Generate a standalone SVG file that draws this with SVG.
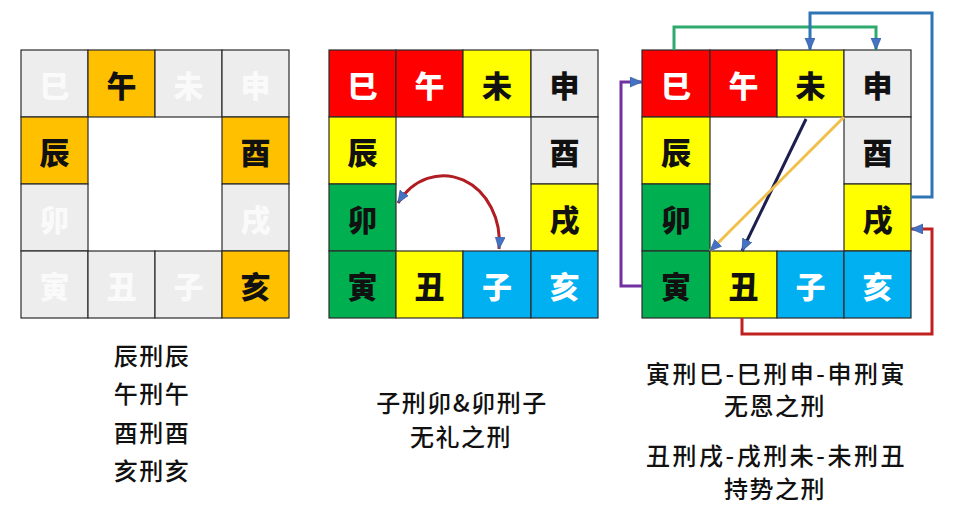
<svg xmlns="http://www.w3.org/2000/svg" width="964" height="520" viewBox="0 0 964 520">
<style>
.cell rect{stroke:#2b2b2b;stroke-width:1.2}
.cell text{font-family:"Noto Sans CJK SC","Noto Sans",sans-serif;font-size:30px;font-weight:900;text-anchor:middle;dominant-baseline:central}
.gray rect{fill:#EDEDED}.gray text{fill:#FFFFFF;fill-opacity:0.75}
.org rect{fill:#FFC000}.org text{fill:#111}
.red rect{fill:#FF0000}.red text{fill:#FFFFFF}
.yel rect{fill:#FFFF00}.yel text{fill:#111}
.lg rect{fill:#EDEDED}.lg text{fill:#111}
.grn rect{fill:#00B050}.grn text{fill:#111}
.blu rect{fill:#00B0F0}.blu text{fill:#FFFFFF}
.cap{font-family:"Noto Sans CJK SC","Noto Sans",sans-serif;font-size:24px;font-weight:500;fill:#111;text-anchor:middle;letter-spacing:1.5px}
.ln{fill:none;stroke-width:3;stroke-linejoin:miter}
</style>
<defs>
<marker id="ah" markerUnits="userSpaceOnUse" markerWidth="14" markerHeight="12" refX="12" refY="5" orient="auto-start-reverse">
<path d="M0,0 L12,5 L0,10 z" fill="#4472C4" stroke="#2F528F" stroke-width="0.6"/>
</marker>
</defs>

<!-- Grid 1 -->
<g id="grid1">
<g id="g1-si" class="cell gray"><rect x="21" y="50" width="67" height="67"/><text x="54.5" y="83.5">巳</text></g>
<g id="g1-wu" class="cell org"><rect x="88" y="50" width="67" height="67"/><text x="121.5" y="83.5">午</text></g>
<g id="g1-wei" class="cell gray"><rect x="155" y="50" width="67" height="67"/><text x="188.5" y="83.5">未</text></g>
<g id="g1-shen" class="cell gray"><rect x="222" y="50" width="67" height="67"/><text x="255.5" y="83.5">申</text></g>
<g id="g1-chen" class="cell org"><rect x="21" y="117" width="67" height="67"/><text x="54.5" y="150.5">辰</text></g>
<g id="g1-you" class="cell org"><rect x="222" y="117" width="67" height="67"/><text x="255.5" y="150.5">酉</text></g>
<g id="g1-mao" class="cell gray"><rect x="21" y="184" width="67" height="67"/><text x="54.5" y="217.5">卯</text></g>
<g id="g1-xu" class="cell gray"><rect x="222" y="184" width="67" height="67"/><text x="255.5" y="217.5">戌</text></g>
<g id="g1-yin" class="cell gray"><rect x="21" y="251" width="67" height="67"/><text x="54.5" y="284.5">寅</text></g>
<g id="g1-chou" class="cell gray"><rect x="88" y="251" width="67" height="67"/><text x="121.5" y="284.5">丑</text></g>
<g id="g1-zi" class="cell gray"><rect x="155" y="251" width="67" height="67"/><text x="188.5" y="284.5">子</text></g>
<g id="g1-hai" class="cell org"><rect x="222" y="251" width="67" height="67"/><text x="255.5" y="284.5">亥</text></g>
</g>

<!-- Grid 2 -->
<g id="grid2">
<g id="g2-si" class="cell red"><rect x="329" y="50" width="67" height="67"/><text x="362.5" y="83.5">巳</text></g>
<g id="g2-wu" class="cell red"><rect x="396" y="50" width="67" height="67"/><text x="429.5" y="83.5">午</text></g>
<g id="g2-wei" class="cell yel"><rect x="463" y="50" width="68" height="67"/><text x="497" y="83.5">未</text></g>
<g id="g2-shen" class="cell lg"><rect x="531" y="50" width="67" height="67"/><text x="564.5" y="83.5">申</text></g>
<g id="g2-chen" class="cell yel"><rect x="329" y="117" width="67" height="67"/><text x="362.5" y="150.5">辰</text></g>
<g id="g2-you" class="cell lg"><rect x="531" y="117" width="67" height="67"/><text x="564.5" y="150.5">酉</text></g>
<g id="g2-mao" class="cell grn"><rect x="329" y="184" width="67" height="67"/><text x="362.5" y="217.5">卯</text></g>
<g id="g2-xu" class="cell yel"><rect x="531" y="184" width="67" height="67"/><text x="564.5" y="217.5">戌</text></g>
<g id="g2-yin" class="cell grn"><rect x="329" y="251" width="67" height="67"/><text x="362.5" y="284.5">寅</text></g>
<g id="g2-chou" class="cell yel"><rect x="396" y="251" width="67" height="67"/><text x="429.5" y="284.5">丑</text></g>
<g id="g2-zi" class="cell blu"><rect x="463" y="251" width="68" height="67"/><text x="497" y="284.5">子</text></g>
<g id="g2-hai" class="cell blu"><rect x="531" y="251" width="67" height="67"/><text x="564.5" y="284.5">亥</text></g>
</g>

<!-- Grid 3 -->
<g id="grid3">
<g id="g3-si" class="cell red"><rect x="642" y="50" width="68" height="67"/><text x="676" y="83.5">巳</text></g>
<g id="g3-wu" class="cell red"><rect x="710" y="50" width="67" height="67"/><text x="743.5" y="83.5">午</text></g>
<g id="g3-wei" class="cell yel"><rect x="777" y="50" width="67" height="67"/><text x="810.5" y="83.5">未</text></g>
<g id="g3-shen" class="cell lg"><rect x="844" y="50" width="67" height="67"/><text x="877.5" y="83.5">申</text></g>
<g id="g3-chen" class="cell yel"><rect x="642" y="117" width="68" height="67"/><text x="676" y="150.5">辰</text></g>
<g id="g3-you" class="cell lg"><rect x="844" y="117" width="67" height="67"/><text x="877.5" y="150.5">酉</text></g>
<g id="g3-mao" class="cell grn"><rect x="642" y="184" width="68" height="67"/><text x="676" y="217.5">卯</text></g>
<g id="g3-xu" class="cell yel"><rect x="844" y="184" width="67" height="67"/><text x="877.5" y="217.5">戌</text></g>
<g id="g3-yin" class="cell grn"><rect x="642" y="251" width="68" height="67"/><text x="676" y="284.5">寅</text></g>
<g id="g3-chou" class="cell yel"><rect x="710" y="251" width="67" height="67"/><text x="743.5" y="284.5">丑</text></g>
<g id="g3-zi" class="cell blu"><rect x="777" y="251" width="67" height="67"/><text x="810.5" y="284.5">子</text></g>
<g id="g3-hai" class="cell blu"><rect x="844" y="251" width="67" height="67"/><text x="877.5" y="284.5">亥</text></g>
</g>

<!-- Connectors -->
<g id="connectors">
<path class="ln" d="M 499 249 A 56 66 0 0 0 398 203" stroke="#B01E23" marker-start="url(#ah)" marker-end="url(#ah)"/>
<path class="ln" d="M 674 50 V 27 H 876 V 50" stroke="#2EAA6E" marker-end="url(#ah)"/>
<path class="ln" d="M 911 197 H 932 V 13 H 810 V 50" stroke="#2E75B6" marker-end="url(#ah)"/>
<path class="ln" d="M 642 286 H 621 V 82 H 642" stroke="#7030A0" marker-end="url(#ah)"/>
<path class="ln" d="M 742 318 V 334 H 932 V 229 H 911" stroke="#C0201E" marker-end="url(#ah)"/>
<path class="ln" d="M 806 119 L 742 251" stroke="#1C1F4E" marker-end="url(#ah)"/>
<path class="ln" d="M 844 117 L 710 251" stroke="#F0C04A" marker-end="url(#ah)"/>
</g>

<!-- Captions -->
<g id="caption1">
<text class="cap" x="152" y="365">辰刑辰</text>
<text class="cap" x="152" y="403">午刑午</text>
<text class="cap" x="152" y="442">酉刑酉</text>
<text class="cap" x="152" y="480">亥刑亥</text>
</g>
<g id="caption2">
<text class="cap" x="462" y="412">子刑卯&amp;卯刑子</text>
<text class="cap" x="461" y="446">无礼之刑</text>
</g>
<g id="caption3">
<text class="cap" x="776" y="383" textLength="260" lengthAdjust="spacing">寅刑巳-巳刑申-申刑寅</text>
<text class="cap" x="775" y="415">无恩之刑</text>
<text class="cap" x="776" y="465" textLength="260" lengthAdjust="spacing">丑刑戌-戌刑未-未刑丑</text>
<text class="cap" x="775" y="498">持势之刑</text>
</g>
</svg>
